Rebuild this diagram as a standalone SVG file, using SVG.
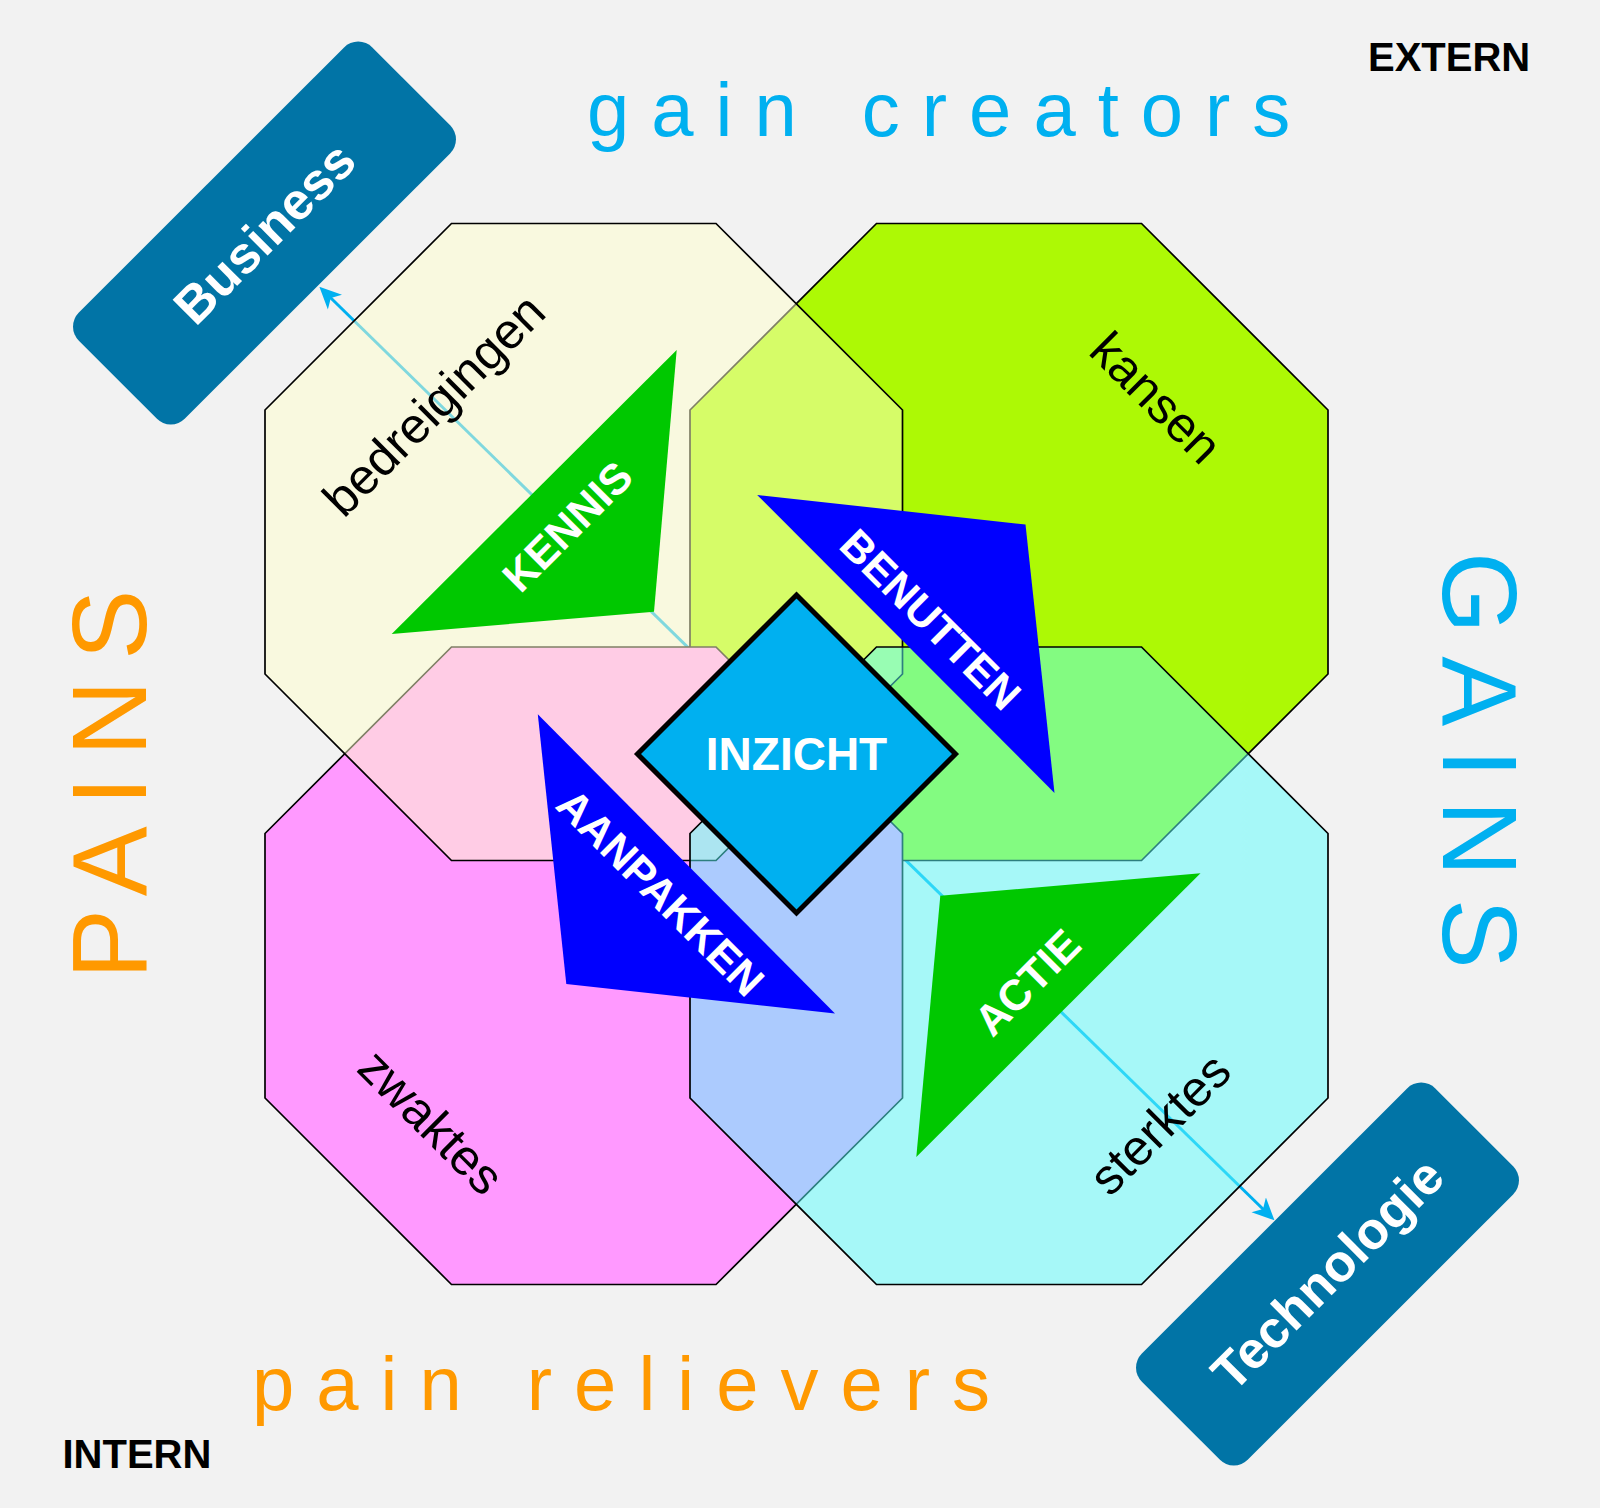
<svg xmlns="http://www.w3.org/2000/svg" width="1600" height="1508" viewBox="0 0 1600 1508">
<style>
text { font-family: "Liberation Sans", Arial, Helvetica, sans-serif; }
.oct { stroke: #000; stroke-width: 1.7; stroke-linejoin: miter; }
.lbl { font-size: 50px; fill: #000; text-anchor: middle; }
.tri-g { fill: #00C800; }
.tri-b { fill: #0000FF; }
.wt { font-size: 43px; font-weight: bold; fill: #fff; text-anchor: middle; }
.box { fill: #0174A6; }
.boxt { font-size: 52px; font-weight: bold; fill: #fff; text-anchor: middle; }
.conn { stroke: #00B0F0; stroke-width: 3; fill: none; marker-end: url(#ah); }
.gain { fill: #00B0F0; }
.pain { fill: #FF9900; }
.corner { font-size: 40px; font-weight: bold; fill: #000; }
</style>
<defs>
<marker id="ah" viewBox="0 0 22 22" refX="12" refY="11" markerWidth="22" markerHeight="22" markerUnits="userSpaceOnUse" orient="auto">
<path d="M0,0.7 L22,11 L0,21.3 L6,11 Z" fill="#00B0F0"/>
</marker>
</defs>
<rect x="0" y="0" width="1600" height="1508" fill="#F2F2F2"/>

<g id="connectors">
<line class="conn" x1="796.5" y1="753.6" x2="326.5" y2="293.7"/>
<line class="conn" x1="796.5" y1="753.6" x2="1267.3" y2="1213.3"/>
</g>

<g id="kansen">
<polygon class="oct" fill="#ADF905" points="876.5,223.5 1141.5,223.5 1328,410 1328,674 1141.5,860.5 876.5,860.5 690,674 690,410"/>
<text class="lbl" transform="translate(1144,410) rotate(45)">kansen</text>
</g>
<g id="zwaktes">
<polygon class="oct" fill="#FF99FF" points="451.5,647 716,647 902.5,833.5 902.5,1098 716,1284.5 451.5,1284.5 265,1098 265,833.5"/>
<text class="lbl" transform="translate(419,1134) rotate(45)">zwaktes</text>
</g>
<g id="bedreigingen">
<polygon class="oct" fill="#FFFFCC" fill-opacity="0.5" points="451.5,223.5 716,223.5 902.5,410 902.5,674 716,860.5 451.5,860.5 265,674 265,410"/>
<text class="lbl" transform="translate(446,417) rotate(-45)">bedreigingen</text>
</g>
<g id="sterktes">
<polygon class="oct" fill="#5AFEFE" fill-opacity="0.5" points="876.5,647 1141.5,647 1328,833.5 1328,1098 1141.5,1284.5 876.5,1284.5 690,1098 690,833.5"/>
<text class="lbl" transform="translate(1172,1136) rotate(-45)">sterktes</text>
</g>

<g id="kennis">
<polygon class="tri-g" points="676.7,350 391.7,634 654,611.7"/>
<text class="wt" transform="translate(578,537) rotate(-45)">KENNIS</text>
</g>
<g id="benutten">
<polygon class="tri-b" points="757.2,494.9 1025.5,524.5 1054.5,792.9"/>
<text class="wt" transform="translate(920,630) rotate(45)">BENUTTEN</text>
</g>
<g id="aanpakken">
<polygon class="tri-b" points="537.8,714.3 566.3,984 835,1013.4"/>
<text class="wt" transform="translate(650,903) rotate(45)">AANPAKKEN</text>
</g>
<g id="actie">
<polygon class="tri-g" points="940.3,895.8 1200.5,873.2 916.3,1156.9"/>
<text class="wt" transform="translate(1038,993) rotate(-45)">ACTIE</text>
</g>

<g id="inzicht">
<polygon points="796.5,595 955.5,754 796.5,913 637.5,754" fill="#00B0F0" stroke="#000" stroke-width="5"/>
<text x="796.5" y="770" font-size="46" font-weight="bold" fill="#fff" text-anchor="middle">INZICHT</text>
</g>

<g id="business" transform="translate(264.5,233) rotate(-45)">
<rect class="box" x="-207.5" y="-75" width="415" height="150" rx="20" ry="20"/>
<text class="boxt" x="0" y="18">Business</text>
</g>
<g id="technologie" transform="translate(1327.5,1274) rotate(-45)">
<rect class="box" x="-207.5" y="-75" width="415" height="150" rx="20" ry="20"/>
<text class="boxt" x="0" y="18">Technologie</text>
</g>

<g id="titles">
<text class="gain" x="587" y="136" font-size="76" letter-spacing="22">gain creators</text>
<text class="pain" x="252" y="1410" font-size="76" letter-spacing="22">pain relievers</text>
<text class="pain" transform="translate(146,979) rotate(-90)" font-size="105" letter-spacing="20.5">PAINS</text>
<text class="gain" transform="translate(1443,552) rotate(90)" font-size="105" letter-spacing="22.5">GAINS</text>
<text class="corner" x="1368" y="71">EXTERN</text>
<text class="corner" x="62.5" y="1468">INTERN</text>
</g>
</svg>
